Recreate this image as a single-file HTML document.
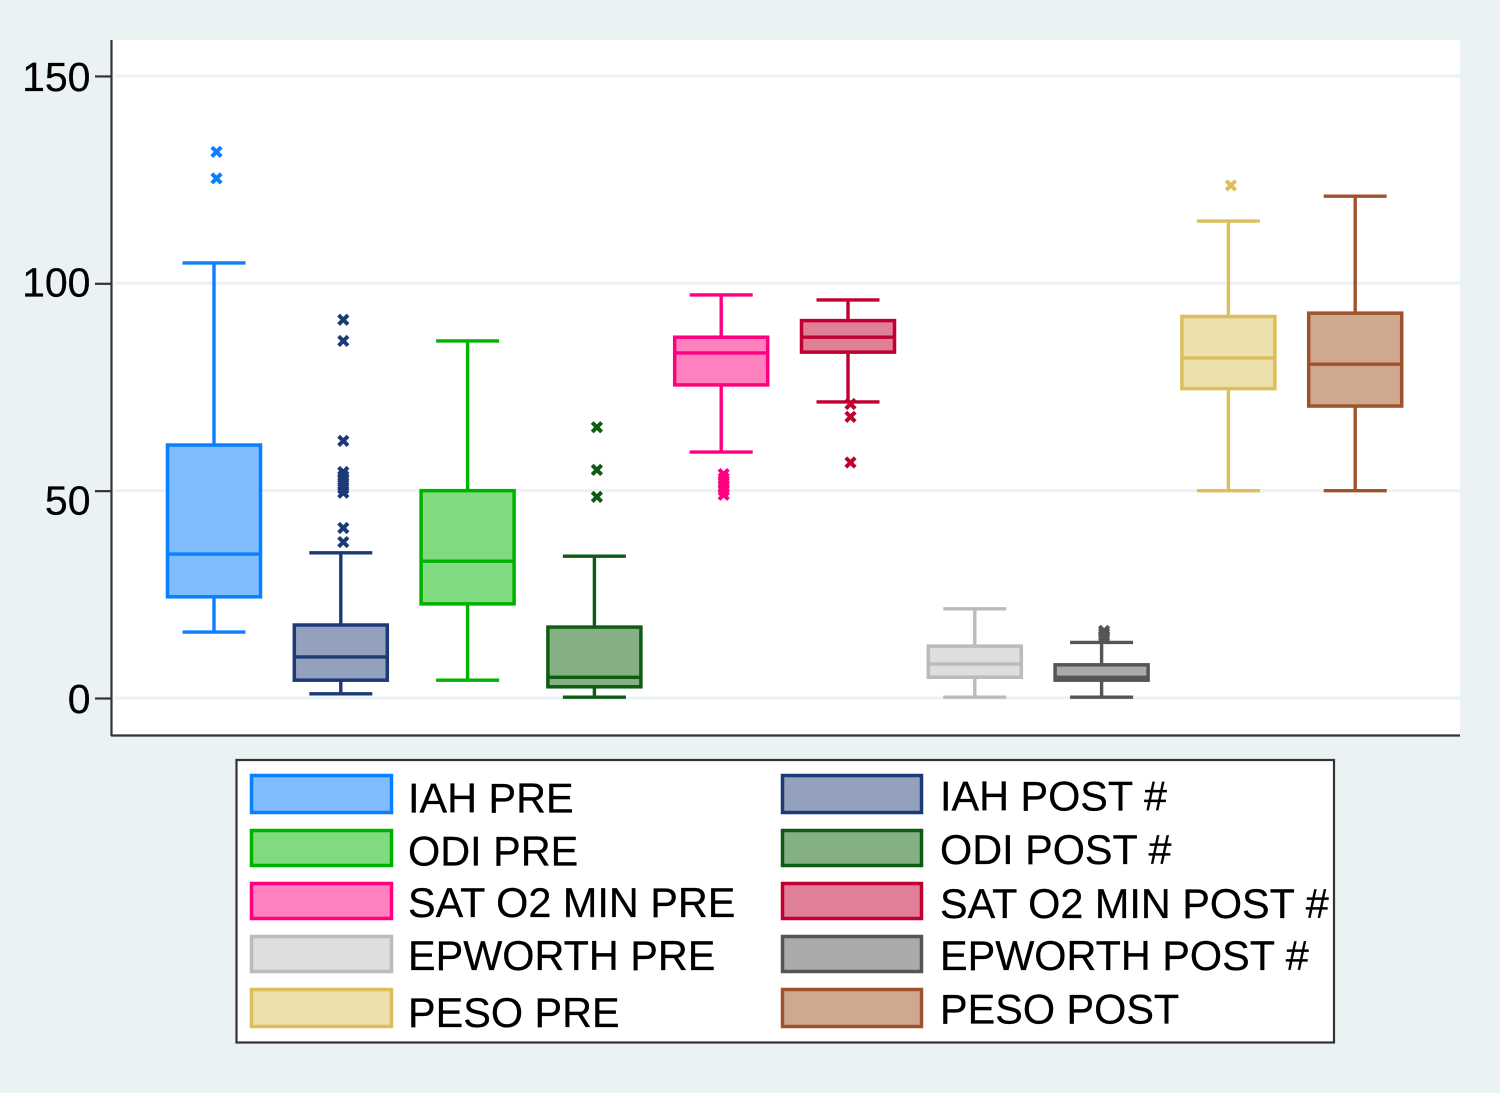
<!DOCTYPE html>
<html lang="en">
<head>
<meta charset="utf-8">
<title>Box plots pre and post</title>
<style>
html,body{margin:0;padding:0;background:#eaf2f3;}
svg{display:block;}
text{font-family:"Liberation Sans",Arial,sans-serif;fill:#000;stroke:#000;stroke-width:0.25px;}
</style>
</head>
<body>
<svg id="chart" xmlns="http://www.w3.org/2000/svg" width="1500" height="1093" viewBox="0 0 1500 1093">
  <rect x="0" y="0" width="1500" height="1093" fill="#eaf2f3"/>
  <rect x="112" y="40" width="1348" height="695" fill="#ffffff"/>
  <g id="grid"></g>
  <g id="boxes"></g>
  <g id="axes">
    <line x1="111.5" y1="40" x2="111.5" y2="736" stroke="#333" stroke-width="2.2"/>
    <line x1="111" y1="735.5" x2="1460" y2="735.5" stroke="#333" stroke-width="2.2"/>
  </g>
  <g>
    <rect x="236.5" y="760" width="1097.5" height="282.5" fill="#fff" stroke="#333" stroke-width="2.2"/>

    <rect x="251.5" y="775.5" width="140" height="37" fill="#80bdff" stroke="#0a7fff" stroke-width="3.5"/>
    <rect x="251.5" y="830.5" width="140" height="35" fill="#80da80" stroke="#00b200" stroke-width="3.5"/>
    <rect x="251.5" y="883.5" width="140" height="35" fill="#ff80bf" stroke="#ff0080" stroke-width="3.5"/>
    <rect x="251.5" y="936.5" width="140" height="35" fill="#dedede" stroke="#bbbbbb" stroke-width="3.5"/>
    <rect x="251.5" y="989.5" width="140" height="37" fill="#ede0ad" stroke="#dcbe5a" stroke-width="3.5"/>

    <rect x="782.5" y="775.5" width="139" height="37" fill="#94a1bd" stroke="#1c3a78" stroke-width="3.5"/>
    <rect x="782.5" y="830.5" width="139" height="35" fill="#84b084" stroke="#0d5c12" stroke-width="3.5"/>
    <rect x="782.5" y="883.5" width="139" height="35" fill="#e08098" stroke="#c00030" stroke-width="3.5"/>
    <rect x="782.5" y="936.5" width="139" height="35" fill="#aaaaaa" stroke="#555555" stroke-width="3.5"/>
    <rect x="782.5" y="989.5" width="139" height="37" fill="#cfa890" stroke="#a0522d" stroke-width="3.5"/>

    <text x="408" y="812.5" font-size="41.4">IAH PRE</text>
    <text x="408" y="865.5" font-size="41.4">ODI PRE</text>
    <text x="408" y="917" font-size="41.4">SAT O2 MIN PRE</text>
    <text x="408" y="970" font-size="41.4">EPWORTH PRE</text>
    <text x="408" y="1027" font-size="41.4">PESO PRE</text>

    <text x="940" y="810.5" font-size="41.4">IAH POST #</text>
    <text x="940" y="864" font-size="41.4">ODI POST #</text>
    <text x="940" y="918" font-size="41.4">SAT O2 MIN POST #</text>
    <text x="940" y="970" font-size="41.4">EPWORTH POST #</text>
    <text x="940" y="1023.5" font-size="41.4">PESO POST</text>
  </g>
</svg>
<script>
var categories = ["iah-pre","iah-post","odi-pre","odi-post","sat-o2-min-pre","sat-o2-min-post","epworth-pre","epworth-post","peso-pre","peso-post"];
var whiskerLow  = [15.9, 1.0, 4.3, 0.2, 59.3, 71.4, 0.2, 0.2, 50.0, 50.0];
var quartile1   = [24.4, 4.3, 22.7, 2.7, 75.5, 83.4, 5.0, 4.3, 74.6, 70.4];
var medians     = [34.7, 9.9, 33.0, 5.0, 83.2, 87.0, 8.2, 5.0, 82.0, 80.5];
var quartile3   = [61.0, 17.6, 50.0, 17.1, 87.0, 91.0, 12.5, 8.0, 92.0, 92.8];
var whiskerHigh = [104.9, 35.0, 86.1, 34.2, 97.2, 96.0, 21.5, 13.4, 115.0, 121.0];
var outliers = [
  [131.7, 125.3],
  [91.2, 86.1, 62.0, 54.5, 53.5, 52.5, 51.5, 50.5, 49.5, 41.0, 37.6],
  [],
  [65.3, 55.0, 48.5],
  [54.0, 53.0, 52.0, 51.0, 50.0, 49.0],
  [70.9, 67.8, 56.8],
  [],
  [16.2, 15.6, 15.0, 14.5],
  [123.6],
  []
];
var yTicks = [0, 50, 100, 150];
var strokeColors = ["#0a7fff","#1c3a78","#00b200","#0d5c12","#ff0080","#c00030","#bbbbbb","#555555","#dcbe5a","#a0522d"];
var fillColors = ["#80bdff","#94a1bd","#80da80","#84b084","#ff80bf","#e08098","#dedede","#aaaaaa","#ede0ad","#cfa890"];

var NS = "http://www.w3.org/2000/svg";
function yScale(v) { return 698 - v * 4.147; }
function xScale(i) { return 214 + i * 126.8; }
function labelNudge(t) {
  if (t === 50) { return 24; }
  if (t === 100) { return 13; }
  return 15;
}
function make(tag, parent, attrs) {
  var el = document.createElementNS(NS, tag);
  for (var k in attrs) { el.setAttribute(k, attrs[k]); }
  parent.appendChild(el);
  return el;
}

var gridG = document.getElementById("grid");
var axesG = document.getElementById("axes");
yTicks.forEach(function (t) {
  var y = yScale(t);
  var grid = make("line", gridG, {x1: 115, x2: 1460, y1: y, y2: y, stroke: "#eaf2f3", "stroke-width": 3});
  
  
  var tick = make("line", axesG, {x1: 95, x2: 111, y1: y + 0.5, y2: y + 0.5, stroke: "#333", "stroke-width": 2.2});
  
  
  var label = make("text", axesG, {x: 90.5, y: y + labelNudge(t), "text-anchor": "end", "font-size": 41});
  label.textContent = String(t);
  
  
});

var boxesG = document.getElementById("boxes");
categories.forEach(function (name, i) {
  var cx = xScale(i);
  var stroke = strokeColors[i];
  var g = make("g", boxesG, {});
  
  

  var whisker = make("line", g, {x1: cx, x2: cx, y1: yScale(whiskerLow[i]), y2: yScale(whiskerHigh[i]), stroke: stroke, "stroke-width": 3.4});
  
  

  var capHigh = make("line", g, {x1: cx - 31.5, x2: cx + 31.5, y1: yScale(whiskerHigh[i]), y2: yScale(whiskerHigh[i]), stroke: stroke, "stroke-width": 3.4});
  
  

  var capLow = make("line", g, {x1: cx - 31.5, x2: cx + 31.5, y1: yScale(whiskerLow[i]), y2: yScale(whiskerLow[i]), stroke: stroke, "stroke-width": 3.4});
  
  

  var rect = make("rect", g, {x: cx - 46.5, y: yScale(quartile3[i]), width: 93, height: yScale(quartile1[i]) - yScale(quartile3[i]), fill: fillColors[i], stroke: stroke, "stroke-width": 3.5});
  
  

  var median = make("line", g, {x1: cx - 46.5, x2: cx + 46.5, y1: yScale(medians[i]), y2: yScale(medians[i]), stroke: stroke, "stroke-width": 3.4});
  
  

  outliers[i].forEach(function (v, j) {
    var ox = cx + 2.5;
    var oy = yScale(v);
    var d = "M" + (ox - 4.7) + " " + (oy - 4.7) + "L" + (ox + 4.7) + " " + (oy + 4.7) +
            "M" + (ox - 4.7) + " " + (oy + 4.7) + "L" + (ox + 4.7) + " " + (oy - 4.7);
    var mark = make("path", g, {d: d, stroke: stroke, "stroke-width": 4, fill: "none"});
    
    
  });
});
</script>
</body>
</html>
